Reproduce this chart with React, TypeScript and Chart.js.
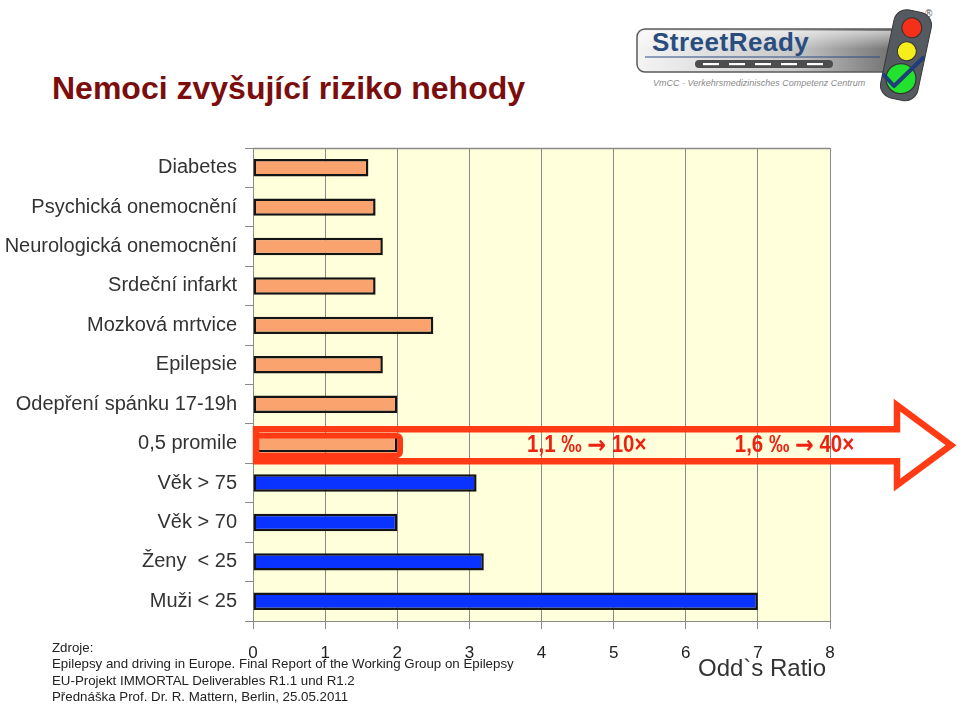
import React, { useEffect, useRef } from 'react';
import { Chart, registerables } from 'chart.js';

Chart.register(...registerables);

const categories = [
  'Diabetes',
  'Psychická onemocnění',
  'Neurologická onemocnění',
  'Srdeční infarkt',
  'Mozková mrtvice',
  'Epilepsie',
  'Odepření spánku 17-19h',
  '0,5 promile',
  'Věk > 75',
  'Věk > 70',
  'Ženy  < 25',
  'Muži < 25',
];
const oddsRatios = [1.6, 1.7, 1.8, 1.7, 2.5, 1.8, 2.0, 2.0, 3.1, 2.0, 3.2, 7.0];
const xMin = 0;
const xMax = 8;
const highlightedCategory = '0,5 promile';
const firstDemographicCategory = 'Věk > 75';
const alcoholNotes = ['1,1 ‰ → 10×', '1,6 ‰ → 40×'];
const alcoholNoteAt = [3.8, 6.68];
const titleText = 'Nemoci zvyšující riziko nehody';
const axisTitle = 'Odd`s Ratio';
const sources = [
  'Zdroje:',
  'Epilepsy and driving in Europe. Final Report of the Working Group on Epilepsy',
  'EU-Projekt IMMORTAL Deliverables R1.1 und R1.2',
  'Přednáška Prof. Dr. R. Mattern, Berlin, 25.05.2011',
];

const FONT = '"Liberation Sans", Arial, "DejaVu Sans", sans-serif';
const ORANGE = '#FBA36F';
const BLUE = '#0A33FF';
const RED = '#FF3A14';

const decorPlugin = {
  id: 'decor',
  beforeDraw(chart: any) {
    const { ctx, chartArea: a } = chart;
    ctx.save();
    ctx.fillStyle = '#FFFFDC';
    ctx.fillRect(a.left, a.top, a.right - a.left, a.bottom - a.top);
    ctx.strokeStyle = '#8a8a8a';
    ctx.lineWidth = 1.5;
    ctx.beginPath();
    ctx.moveTo(a.left, a.top + 0.5);
    ctx.lineTo(a.right, a.top + 0.5);
    ctx.stroke();
    ctx.restore();
  },
  afterDatasetsDraw(chart: any) {
    const { ctx } = chart;
    const xs = chart.scales.x;
    const ys = chart.scales.y;
    const idx = categories.indexOf(highlightedCategory);
    const yc = ys.getPixelForValue(idx) + 1.5;
    const x0 = xs.getPixelForValue(0) + 3;
    const tip = chart.width - 9;
    const headStart = chart.width - 63;
    const shaftHalf = 16;
    const headHalf = 40;
    ctx.save();
    ctx.strokeStyle = RED;
    ctx.lineWidth = 6.5;
    ctx.lineJoin = 'miter';
    ctx.beginPath();
    ctx.moveTo(x0, yc - shaftHalf);
    ctx.lineTo(headStart, yc - shaftHalf);
    ctx.lineTo(headStart, yc - headHalf);
    ctx.lineTo(tip, yc);
    ctx.lineTo(headStart, yc + headHalf);
    ctx.lineTo(headStart, yc + shaftHalf);
    ctx.lineTo(x0, yc + shaftHalf);
    ctx.closePath();
    ctx.stroke();

    // rounded frame around the highlighted bar
    const rRight = xs.getPixelForValue(oddsRatios[idx]) + 3;
    const rTop = yc - 9.5;
    const rBot = yc + 10;
    ctx.lineWidth = 5.5;
    ctx.lineJoin = 'round';
    ctx.beginPath();
    const r = 4;
    ctx.moveTo(x0, rTop);
    ctx.lineTo(rRight - r, rTop);
    ctx.quadraticCurveTo(rRight, rTop, rRight, rTop + r);
    ctx.lineTo(rRight, rBot - r);
    ctx.quadraticCurveTo(rRight, rBot, rRight - r, rBot);
    ctx.lineTo(x0, rBot);
    ctx.stroke();

    ctx.fillStyle = '#EE2210';
    ctx.textBaseline = 'middle';
    ctx.textAlign = 'left';
    const textFont = `bold 22px ${FONT}`;
    const arrowFont = 'bold 24px "DejaVu Sans", sans-serif';
    alcoholNotes.forEach((t, i) => {
      const parts = t.split('→');
      ctx.save();
      ctx.translate(xs.getPixelForValue(alcoholNoteAt[i]), yc + 1);
      ctx.scale(0.93, 1.05);
      let cx = 0;
      parts.forEach((p, j) => {
        ctx.font = textFont;
        ctx.fillText(p, cx, 0);
        cx += ctx.measureText(p).width;
        if (j < parts.length - 1) {
          ctx.font = arrowFont;
          ctx.fillText('→', cx, 0);
          cx += ctx.measureText('→').width;
        }
      });
      ctx.restore();
    });
    ctx.restore();
  },
};

function Logo() {
  return (
    <svg width={340} height={105} viewBox="620 0 340 105" style={{ position: 'absolute', left: 620, top: 0 }}>
      <defs>
        <linearGradient id="boxg" x1="0" y1="0" x2="1" y2="0">
          <stop offset="0" stopColor="#f4f4f4" />
          <stop offset="0.6" stopColor="#c8c8c8" />
          <stop offset="1" stopColor="#6c6c6c" />
        </linearGradient>
        <linearGradient id="boxv" x1="0" y1="0" x2="0" y2="1">
          <stop offset="0" stopColor="#ffffff" stopOpacity="0.6" />
          <stop offset="1" stopColor="#ffffff" stopOpacity="0" />
        </linearGradient>
      </defs>
      <rect x={637} y={29} width={262} height={43} rx={8} fill="url(#boxg)" stroke="#5a5a5a" strokeWidth={1.5} />
      <rect x={640} y={31} width={256} height={18} rx={6} fill="url(#boxv)" />
      <text x={652} y={51} fontFamily={FONT} fontWeight="bold" fontSize={26} fill="#2A4D80" letterSpacing={0.5}>StreetReady</text>
      <line x1={645} y1={57} x2={880} y2={57} stroke="#2A4D80" strokeWidth={1.2} />
      <rect x={695} y={60} width={138} height={8} rx={4} fill="#4d4d4d" />
      {[0, 1, 2, 3, 4].map((i) => (
        <rect key={i} x={703 + i * 26} y={63} width={16} height={2.2} fill="#ffffff" />
      ))}
      <text x={653} y={86} fontFamily={FONT} fontStyle="italic" fontSize={9} fill="#8a8a8a">VmCC - Verkehrsmedizinisches Competenz Centrum</text>
      <g transform="rotate(12 905 55)">
        <rect x={887} y={10} width={38} height={90} rx={13} fill="#555a60" stroke="#3a3a3a" strokeWidth={1} />
        <circle cx={906} cy={27} r={10} fill="#F4301A" stroke="#333" strokeWidth={1} />
        <circle cx={906} cy={51} r={9.5} fill="#F5EE1C" stroke="#333" strokeWidth={1} />
        <circle cx={906} cy={79} r={15} fill="#22E22E" stroke="#333" strokeWidth={1.2} />
      </g>
      <path d="M884 75 L894 86 L923 58" fill="none" stroke="#1F3D7A" strokeWidth={4} strokeLinecap="round" strokeLinejoin="round" />
      <text x={925} y={17} fontFamily={FONT} fontSize={10} fill="#555">®</text>
    </svg>
  );
}

export default function App() {
  const canvasRef = useRef<HTMLCanvasElement | null>(null);

  useEffect(() => {
    const canvas = canvasRef.current;
    if (!canvas) return;
    const splitAt = categories.indexOf(firstDemographicCategory);
    const chart = new Chart(canvas, {
      type: 'bar',
      data: {
        labels: categories,
        datasets: [
          {
            data: oddsRatios,
            backgroundColor: categories.map((_, i) => (i < splitAt ? ORANGE : BLUE)),
            borderColor: '#141414',
            borderWidth: 2.5,
            borderSkipped: false,
            barPercentage: 0.44,
            categoryPercentage: 1,
          },
        ],
      },
      options: {
        indexAxis: 'y',
        responsive: false,
        animation: false,
        devicePixelRatio: 1,
        layout: { padding: { top: 148, right: 130, left: 0, bottom: 0 } },
        plugins: {
          legend: { display: false },
          tooltip: { enabled: false },
          title: { display: false },
        },
        scales: {
          x: {
            type: 'linear',
            min: xMin,
            max: xMax,
            ticks: { stepSize: 1, color: '#222', font: { family: FONT, size: 17 }, padding: 14 },
            grid: { color: '#8a8a8a', lineWidth: 1, tickLength: 8 },
            border: { color: '#8a8a8a' },
            afterFit: (scale: any) => {
              scale.height = 84;
            },
          },
          y: {
            type: 'category',
            ticks: { color: '#333', font: { family: FONT, size: 20 }, padding: 8, autoSkip: false },
            grid: { drawOnChartArea: false, drawTicks: true, tickLength: 8, color: '#8a8a8a' },
            border: { display: false },
            afterFit: (scale: any) => {
              scale.width = 253;
            },
          },
        },
      },
      plugins: [decorPlugin],
    } as any);
    return () => chart.destroy();
  }, []);

  return (
    <div style={{ position: 'fixed', left: 0, top: 0, width: 960, height: 705, background: '#fff', overflow: 'hidden', fontFamily: FONT }}>
      <div style={{ position: 'absolute', left: 52, top: 70, fontSize: 32, lineHeight: '36px', fontWeight: 'bold', color: '#7B0D0D', whiteSpace: 'nowrap' }}>
        {titleText}
      </div>
      <Logo />
      <canvas ref={canvasRef} width={960} height={705} style={{ position: 'absolute', left: 0, top: 0, width: 960, height: 705 }} />
      <div style={{ position: 'absolute', left: 698, top: 654, fontSize: 24, lineHeight: '28px', color: '#333', whiteSpace: 'nowrap' }}>
        {axisTitle}
      </div>
      <div style={{ position: 'absolute', left: 52, top: 640, fontSize: 13.3, lineHeight: '16.4px', color: '#222', whiteSpace: 'nowrap' }}>
        {sources.map((s, i) => (
          <div key={i}>{s}</div>
        ))}
      </div>
    </div>
  );
}
